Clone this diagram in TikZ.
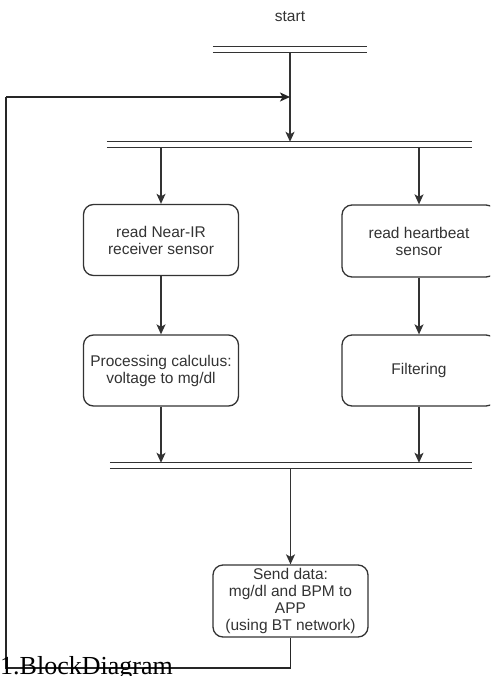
\documentclass[tikz,border=0pt]{standalone}
\usepackage{fontspec}
\setmainfont{Liberation Sans}
\newfontfamily\capfont{Liberation Serif}
\usetikzlibrary{arrows.meta}
\definecolor{ink}{HTML}{333333}
\tikzset{
  box/.style={draw=ink, line width=1.3pt, rounded corners=10pt, minimum width=155pt, minimum height=71pt, align=center, text=ink, font=\fontsize{15.5}{17}\selectfont, inner sep=2pt},
  barnode/.style={inner sep=0pt, minimum height=5pt},
  barline/.style={draw=ink, line width=1.3pt},
  arr/.style={draw=ink, line width=1.3pt, -{Stealth[length=10pt,width=9pt,inset=2.5pt]}},
  loopline/.style={draw=black!85, line width=1.3pt}
}
\begin{document}
\begin{tikzpicture}[x=1pt,y=-1pt]
\useasboundingbox (0,0) rectangle (490,676);
\clip (0,0) rectangle (490,676);
\fill[white] (0,0) rectangle (490,676);
% start label
\node[text=ink, font=\fontsize{15.5}{17}\selectfont] (start) at (290,17) {start};
% bars
\node[barnode, minimum width=154pt] (bar1) at (290,49.5) {};
\node[barnode, minimum width=365pt] (bar2) at (289.5,144.5) {};
\node[barnode, minimum width=362pt] (bar3) at (291,465.5) {};
\foreach \b in {bar1,bar2,bar3}{
  \draw[barline] (\b.north west) -- (\b.north east);
  \draw[barline] (\b.south west) -- (\b.south east);
}
% boxes
\node[box] (n1) at (161,240) {read Near-IR\\receiver sensor};
\node[box, minimum width=154pt, minimum height=72pt] (n2) at (419,241) {read heartbeat\\sensor};
\node[box] (n3) at (161,370.5) {Processing calculus:\\voltage to mg/dl};
\node[box, minimum width=154pt] (n4) at (419,370.5) {Filtering};
\node[box, minimum height=72pt] (send) at (290.5,601) {Send data:\\mg/dl and BPM to\\APP\\(using BT network)};
% connectors
\coordinate (j) at (290,97);
\draw[arr] (bar1.south -| j) -- (bar2.north -| j);
\draw[arr] (bar2.south -| n1.north) -- (n1.north);
\draw[arr] (bar2.south -| n2.north) -- (n2.north);
\draw[arr] (n1.south) -- (n3.north);
\draw[arr] (n2.south) -- (n4.north);
\draw[arr] (n3.south) -- (n3.south |- bar3.north);
\draw[arr] (n4.south) -- (n4.south |- bar3.north);
\draw[arr] (bar3.south -| send.north) -- (send.north);
% feedback loop
\coordinate (lb) at (6,668);
\coordinate (lt) at (6,97);
\draw[loopline] (send.south) |- (lb) -- (lt);
\draw[loopline, -{Stealth[length=10pt,width=9pt,inset=2.5pt]}] (lt) -- (j);
% caption
\node[anchor=base west, inner sep=0pt, font=\capfont\fontsize{26}{28}\selectfont] (cap) at (0,674) {1.BlockDiagram};
\end{tikzpicture}
\end{document}
